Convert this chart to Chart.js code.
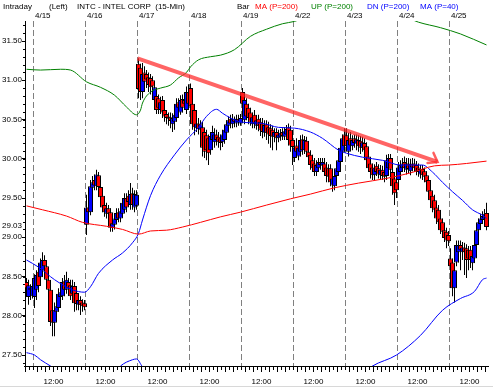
<!DOCTYPE html>
<html>
<head>
<meta charset="utf-8">
<script src="https://cdn.jsdelivr.net/npm/chart.js@4.4.1/dist/chart.umd.min.js"></script>
<style>
  html, body { margin: 0; padding: 0; background: #fff; }
  canvas { display: block; }
</style>
</head>
<body>
<canvas id="chart" width="493" height="387"></canvas>
<script>
// INTC 15-min bars, 4/12 (last 4 bars) .. 4/25
var dayLabels = ['4/15', '4/16', '4/17', '4/18', '4/19', '4/22', '4/23', '4/24', '4/25'];
var dayStart = [4, 30, 56, 82, 108, 134, 160, 186, 212];   // bar index of 9:30
var barsPerDay = 26;
var noonBar = 10;                                          // 12:00 bar within a day

var open = [
  28.43, 28.24, 28.33, 28.25,
  // 4/15
  28.24, 28.33, 28.56, 28.49, 28.58, 28.71, 28.63, 28.46, 28.33, 28.07, 27.91, 28.05, 28.10,
  28.24, 28.25, 28.44, 28.33, 28.43, 28.39, 28.28, 28.38, 28.29, 28.14, 28.20, 28.17, 28.16,
  // 4/16
  29.16, 29.38, 29.32, 29.63, 29.73, 29.65, 29.79, 29.64, 29.53, 29.41, 29.30, 29.37, 29.32,
  29.12, 29.16, 29.22, 29.32, 29.24, 29.30, 29.35, 29.50, 29.53, 29.41, 29.56, 29.38, 29.40,
  // 4/17
  31.21, 31.16, 30.85, 31.10, 31.08, 31.04, 31.03, 31.00, 30.75, 30.80, 30.77, 30.62, 30.75,
  30.62, 30.57, 30.54, 30.53, 30.44, 30.47, 30.52, 30.72, 30.59, 30.76, 30.75, 30.62, 30.85,
  // 4/18
  30.90, 30.70, 30.62, 30.39, 30.45, 30.37, 30.40, 30.34, 30.30, 30.26, 30.11, 30.24, 30.21,
  30.31, 30.28, 30.26, 30.21, 30.24, 30.33, 30.42, 30.51, 30.44, 30.51, 30.45, 30.51, 30.45,
  // 4/19
  30.85, 30.49, 30.70, 30.65, 30.59, 30.44, 30.56, 30.42, 30.51, 30.47, 30.45, 30.33, 30.44,
  30.40, 30.39, 30.37, 30.28, 30.34, 30.26, 30.28, 30.34, 30.28, 30.31, 30.40, 30.37, 30.24,
  // 4/22
  30.01, 30.17, 30.03, 30.09, 30.25, 30.11, 30.23, 30.09, 30.05, 29.98, 29.94, 29.83, 29.88,
  29.96, 29.91, 29.94, 29.89, 29.88, 29.88, 29.66, 29.65, 29.78, 29.83, 29.96, 30.09, 30.31,
  // 4/23
  30.30, 30.09, 30.26, 30.16, 30.26, 30.19, 30.24, 30.23, 30.14, 30.20, 30.16, 30.03, 29.94,
  29.89, 29.79, 29.91, 29.88, 29.79, 29.86, 29.83, 29.78, 29.88, 30.01, 29.83, 29.75, 29.70,
  // 4/24
  29.73, 29.83, 29.88, 29.96, 29.86, 29.94, 29.84, 29.94, 29.94, 29.92, 29.89, 29.80, 29.87,
  29.84, 29.79, 29.73, 29.60, 29.53, 29.47, 29.38, 29.35, 29.24, 29.19, 29.09, 29.07, 29.03,
  // 4/25
  28.73, 28.68, 28.35, 28.68, 28.81, 28.90, 28.81, 28.87, 28.86, 28.84, 28.84, 28.67, 28.73,
  28.90, 29.09, 29.17, 29.22, 29.24, 29.31
];
var high = [
  28.48, 28.46, 28.40, 28.42,
  28.53, 28.58, 28.65, 28.73, 28.81, 28.77, 28.68, 28.51, 28.38, 28.12, 28.17, 28.20, 28.35,
  28.38, 28.48, 28.52, 28.56, 28.48, 28.46, 28.46, 28.43, 28.35, 28.28, 28.25, 28.21, 28.20,
  29.54, 29.44, 29.73, 29.78, 29.80, 29.86, 29.83, 29.69, 29.58, 29.47, 29.44, 29.41, 29.37,
  29.24, 29.31, 29.37, 29.37, 29.40, 29.50, 29.56, 29.56, 29.60, 29.69, 29.63, 29.60, 29.60,
  31.28, 31.21, 31.22, 31.18, 31.13, 31.10, 31.08, 31.05, 30.98, 30.85, 30.82, 30.79, 30.80,
  30.67, 30.62, 30.59, 30.59, 30.58, 30.62, 30.77, 30.77, 30.81, 30.82, 30.80, 30.92, 30.95,
  30.96, 30.75, 30.67, 30.52, 30.52, 30.49, 30.47, 30.39, 30.37, 30.31, 30.34, 30.42, 30.39,
  30.37, 30.34, 30.31, 30.37, 30.42, 30.49, 30.54, 30.56, 30.57, 30.54, 30.56, 30.56, 30.57,
  30.90, 30.81, 30.77, 30.70, 30.65, 30.59, 30.62, 30.54, 30.56, 30.52, 30.52, 30.49, 30.49,
  30.47, 30.44, 30.42, 30.39, 30.39, 30.37, 30.38, 30.39, 30.40, 30.43, 30.45, 30.42, 30.29,
  30.21, 30.26, 30.21, 30.30, 30.31, 30.29, 30.28, 30.15, 30.11, 30.05, 30.01, 29.98, 30.01,
  30.01, 30.01, 30.01, 29.96, 29.93, 29.93, 29.80, 29.83, 29.94, 30.03, 30.19, 30.31, 30.39,
  30.39, 30.33, 30.34, 30.30, 30.31, 30.31, 30.30, 30.29, 30.28, 30.26, 30.21, 30.09, 30.01,
  29.94, 29.93, 29.96, 29.93, 29.92, 29.91, 29.88, 30.05, 30.06, 30.06, 29.88, 29.80, 29.78,
  29.96, 29.98, 30.01, 30.03, 30.01, 30.01, 30.00, 30.01, 30.00, 29.97, 29.94, 29.92, 29.92,
  29.89, 29.84, 29.78, 29.65, 29.58, 29.54, 29.44, 29.41, 29.30, 29.24, 29.14, 29.12, 29.08,
  28.86, 28.73, 28.65, 28.96, 28.96, 28.96, 28.94, 28.93, 28.91, 28.89, 28.89, 28.81, 28.96,
  29.14, 29.24, 29.30, 29.33, 29.36, 29.44
];
var low = [
  28.26, 28.14, 28.20, 28.22,
  28.10, 28.20, 28.30, 28.43, 28.52, 28.58, 28.40, 28.25, 27.87, 27.74, 27.74, 27.99, 28.05,
  28.20, 28.20, 28.25, 28.28, 28.30, 28.20, 28.22, 28.05, 28.07, 28.07, 28.01, 28.05, 28.07,
  29.03, 29.27, 29.28, 29.58, 29.60, 29.60, 29.58, 29.45, 29.32, 29.26, 29.24, 29.22, 29.07,
  29.07, 29.10, 29.17, 29.19, 29.19, 29.27, 29.31, 29.32, 29.40, 29.35, 29.35, 29.32, 29.35,
  30.77, 30.75, 30.77, 30.88, 30.90, 30.85, 30.82, 30.85, 30.68, 30.57, 30.57, 30.57, 30.52,
  30.47, 30.44, 30.42, 30.39, 30.34, 30.37, 30.47, 30.59, 30.56, 30.59, 30.62, 30.57, 30.65,
  30.62, 30.37, 30.30, 30.34, 30.31, 30.29, 30.03, 30.01, 29.98, 29.92, 30.05, 30.17, 30.14,
  30.17, 30.14, 30.11, 30.15, 30.19, 30.26, 30.37, 30.39, 30.39, 30.40, 30.40, 30.42, 30.42,
  30.65, 30.44, 30.49, 30.44, 30.42, 30.39, 30.39, 30.37, 30.35, 30.29, 30.26, 30.28, 30.24,
  30.19, 30.14, 30.11, 30.21, 30.11, 30.21, 30.23, 30.24, 30.24, 30.26, 30.17, 30.09, 29.92,
  29.96, 30.03, 29.98, 30.03, 30.05, 30.06, 30.03, 29.96, 29.86, 29.83, 29.78, 29.78, 29.83,
  29.86, 29.86, 29.78, 29.70, 29.70, 29.65, 29.58, 29.60, 29.73, 29.78, 29.91, 30.03, 30.09,
  30.11, 30.03, 30.11, 30.11, 30.14, 30.11, 30.09, 30.06, 30.09, 30.03, 29.93, 29.83, 29.75,
  29.73, 29.73, 29.78, 29.75, 29.73, 29.73, 29.70, 29.73, 29.83, 29.78, 29.54, 29.41, 29.50,
  29.65, 29.78, 29.83, 29.83, 29.80, 29.82, 29.79, 29.84, 29.83, 29.79, 29.77, 29.75, 29.73,
  29.70, 29.65, 29.53, 29.40, 29.32, 29.30, 29.17, 29.12, 29.04, 28.99, 28.94, 28.86, 28.89,
  28.56, 28.25, 28.17, 28.63, 28.68, 28.58, 28.71, 28.52, 28.48, 28.58, 28.61, 28.58, 28.68,
  28.84, 29.04, 29.12, 29.17, 29.19, 29.09
];
var close = [
  28.35, 28.39, 28.35, 28.38,
  28.48, 28.52, 28.38, 28.68, 28.71, 28.63, 28.46, 28.33, 27.92, 27.91, 28.07, 28.12, 28.28,
  28.30, 28.43, 28.33, 28.46, 28.35, 28.25, 28.38, 28.16, 28.15, 28.20, 28.14, 28.12, 28.11,
  29.38, 29.32, 29.65, 29.70, 29.66, 29.80, 29.64, 29.51, 29.38, 29.32, 29.37, 29.30, 29.12,
  29.18, 29.24, 29.31, 29.24, 29.33, 29.44, 29.50, 29.38, 29.45, 29.55, 29.41, 29.55, 29.54,
  30.89, 30.85, 31.08, 30.98, 31.01, 30.94, 30.91, 30.92, 30.91, 30.62, 30.65, 30.72, 30.59,
  30.54, 30.52, 30.51, 30.48, 30.52, 30.56, 30.70, 30.65, 30.75, 30.65, 30.70, 30.85, 30.70,
  30.67, 30.44, 30.40, 30.45, 30.38, 30.44, 30.14, 30.09, 30.11, 30.07, 30.29, 30.34, 30.31,
  30.24, 30.21, 30.20, 30.31, 30.37, 30.44, 30.49, 30.45, 30.51, 30.47, 30.51, 30.47, 30.52,
  30.70, 30.75, 30.54, 30.52, 30.47, 30.53, 30.45, 30.49, 30.42, 30.37, 30.34, 30.43, 30.33,
  30.31, 30.29, 30.28, 30.34, 30.26, 30.31, 30.33, 30.29, 30.35, 30.38, 30.24, 30.17, 30.15,
  30.14, 30.09, 30.14, 30.24, 30.11, 30.24, 30.09, 30.02, 29.92, 29.88, 29.83, 29.92, 29.96,
  29.92, 29.96, 29.83, 29.78, 29.77, 29.70, 29.75, 29.78, 29.88, 29.98, 30.14, 30.26, 30.16,
  30.16, 30.24, 30.17, 30.24, 30.20, 30.25, 30.16, 30.14, 30.21, 30.11, 29.98, 29.88, 29.83,
  29.79, 29.88, 29.83, 29.80, 29.86, 29.78, 29.77, 29.98, 30.01, 29.86, 29.65, 29.56, 29.60,
  29.89, 29.92, 29.94, 29.88, 29.94, 29.87, 29.93, 29.89, 29.88, 29.84, 29.83, 29.87, 29.79,
  29.77, 29.70, 29.58, 29.47, 29.37, 29.35, 29.24, 29.19, 29.09, 29.07, 28.99, 28.96, 28.95,
  28.63, 28.35, 28.58, 28.90, 28.90, 28.84, 28.87, 28.81, 28.71, 28.73, 28.71, 28.76, 28.90,
  29.09, 29.19, 29.24, 29.27, 29.30, 29.13
];

// studies, read at a few bars each
var ma200Idx = [0, 8, 20, 28, 40, 48, 56, 62, 70, 78, 87, 97, 107, 120, 132, 142, 154, 166, 180, 192, 204, 211, 220, 230];
var ma200Val = [29.40, 29.35, 29.27, 29.19, 29.14, 29.10, 29.04, 29.08, 29.09, 29.13, 29.19, 29.26, 29.32, 29.41, 29.49, 29.55, 29.63, 29.69, 29.75, 29.82, 29.91, 29.92, 29.94, 29.97];

var upIdx = [0, 7, 17, 22, 30, 37, 44, 50, 55, 57, 58, 62, 67, 72, 76, 80, 82, 86, 92, 97, 104, 112, 120, 128, 134, 150, 170, 190, 196, 207, 217, 230];
var upVal = [31.14, 31.13, 31.14, 31.13, 30.98, 30.91, 30.81, 30.66, 30.56, 30.62, 30.71, 30.85, 30.90, 30.94, 31.03, 31.10, 31.17, 31.26, 31.30, 31.32, 31.39, 31.56, 31.65, 31.72, 31.75, 31.90, 31.95, 31.80, 31.74, 31.67, 31.59, 31.45];

var dnIdx = [0, 4, 7, 12, 25, 40, 47, 53, 55, 58, 80, 120, 160, 173, 185, 197, 208, 217, 224, 228, 230];
var dnVal = [27.53, 27.50, 27.44, 27.36, 27.15, 27.15, 27.36, 27.44, 27.45, 27.35, 26.90, 26.95, 27.10, 27.36, 27.50, 27.75, 28.07, 28.22, 28.31, 28.46, 28.48];

var ma40Idx = [0, 6, 14, 23, 29, 32, 36, 43, 48, 53, 56, 58, 62, 67, 74, 80, 86, 90, 95, 98, 102, 107, 118, 126, 134, 142, 148, 156, 160, 168, 178, 187, 198, 203, 208, 213, 218, 223, 228, 230];
var ma40Val = [28.71, 28.62, 28.46, 28.33, 28.30, 28.37, 28.54, 28.71, 28.80, 28.93, 29.05, 29.22, 29.53, 29.79, 30.05, 30.24, 30.40, 30.54, 30.63, 30.58, 30.52, 30.47, 30.45, 30.40, 30.39, 30.34, 30.26, 30.11, 30.07, 30.02, 29.98, 29.92, 29.92, 29.83, 29.70, 29.58, 29.47, 29.35, 29.28, 29.24];

// hand drawn trend line
var trendIdx = [55.5, 205.5];
var trendVal = [31.28, 29.96];

var yTicks = [27.5, 28, 28.5, 29, 29.5, 30, 30.5, 31, 31.5];
var lastLabel = '29.03', lastLabelVal = 29.15;

function pts(xs, ys) {
  return xs.map(function (x, k) { return { x: x, y: ys[k] }; });
}

var wicks = close.map(function (c, i) { return { x: i, y: [low[i], high[i]] }; });
var bodies = close.map(function (c, i) {
  var a = Math.min(open[i], c), b = Math.max(open[i], c);
  if (b - a < 0.02) b = a + 0.02;
  return { x: i, y: [a, b] };
});
var bodyColor = close.map(function (c, i) { return c >= open[i] ? '#0000ff' : '#ff0000'; });

var FONT = '8px "Liberation Sans", Arial, sans-serif';

var deco = {
  id: 'deco',
  beforeDatasetsDraw: function (chart) {
    var ctx = chart.ctx, xs = chart.scales.x, a = chart.chartArea;
    ctx.save();
    ctx.strokeStyle = '#808080';
    ctx.lineWidth = 1;
    ctx.setLineDash([6, 3]);
    dayStart.forEach(function (d) {
      var x = Math.floor(xs.getPixelForValue(d - 0.5)) + 0.5;
      ctx.beginPath();
      ctx.moveTo(x, a.top);
      ctx.lineTo(x, a.bottom);
      ctx.stroke();
    });
    ctx.restore();
  },
  afterDraw: function (chart) {
    var ctx = chart.ctx, xs = chart.scales.x, ys = chart.scales.y, a = chart.chartArea;
    ctx.save();
    ctx.strokeStyle = '#000';
    ctx.lineWidth = 1;
    // bottom axis
    ctx.beginPath();
    ctx.moveTo(a.left - 1, a.bottom + 0.5);
    ctx.lineTo(a.right, a.bottom + 0.5);
    ctx.stroke();
    for (var i = 0; i <= close.length; i++) {
      var k = ((i - dayStart[0]) % barsPerDay + barsPerDay) % barsPerDay;
      if (k % 2) continue;
      var x = Math.floor(xs.getPixelForValue(i - 0.5)) + 0.5;
      var len = (k / 2) % 2 ? 5 : 3;
      ctx.beginPath();
      ctx.moveTo(x, a.bottom + 1);
      ctx.lineTo(x, a.bottom + 1 + len);
      ctx.stroke();
    }
    // minor y ticks
    for (var v = 27.4; v < 31.76; v += 0.1) {
      var y = Math.round(ys.getPixelForValue(v)) + 0.5;
      ctx.beginPath();
      ctx.moveTo(a.left - 2, y);
      ctx.lineTo(a.left, y);
      ctx.stroke();
    }
    // window frame at the bottom
    ctx.strokeStyle = '#d8d8d8';
    ctx.beginPath();
    ctx.moveTo(0, 386.5);
    ctx.lineTo(493, 386.5);
    ctx.stroke();
    ctx.font = FONT;
    ctx.fillStyle = '#000';
    // 12:00 labels
    ctx.textAlign = 'center';
    ctx.textBaseline = 'alphabetic';
    dayStart.forEach(function (d) {
      ctx.fillText('12:00', xs.getPixelForValue(d + noonBar - 0.5), 384);
    });
    // date labels
    ctx.textAlign = 'left';
    dayStart.forEach(function (d, n) {
      ctx.fillText(dayLabels[n], Math.floor(xs.getPixelForValue(d - 0.5)) + 2, 18);
    });
    // last value
    ctx.textAlign = 'right';
    ctx.textBaseline = 'middle';
    ctx.fillText(lastLabel, 22, ys.getPixelForValue(lastLabelVal));
    // header
    ctx.textAlign = 'left';
    ctx.textBaseline = 'alphabetic';
    var head = [
      ['Intraday', 3, '#000'], ['(Left)', 49, '#000'], ['INTC - INTEL CORP  (15-Min)', 77, '#000'],
      ['Bar', 237, '#000'], ['MA (P=200)', 255, '#ff0000'], ['UP (P=200)', 311, '#008000'],
      ['DN (P=200)', 367, '#0000ff'], ['MA (P=40)', 420, '#0000ff']
    ];
    head.forEach(function (h) { ctx.fillStyle = h[2]; ctx.fillText(h[0], h[1], 9); });
    // arrow head of the trend line
    var tx = xs.getPixelForValue(trendIdx[1]), ty = ys.getPixelForValue(trendVal[1]);
    ctx.strokeStyle = 'rgba(255,40,40,0.75)';
    ctx.lineWidth = 2.5;
    ctx.lineCap = 'round';
    ctx.beginPath();
    ctx.moveTo(tx - 4, ty - 9);
    ctx.lineTo(tx, ty);
    ctx.lineTo(tx - 10, ty + 1);
    ctx.stroke();
    ctx.restore();
  }
};

function lineSet(label, data, color, width, order) {
  return {
    type: 'line', label: label, data: data, borderColor: color, borderWidth: width,
    pointRadius: 0, fill: false, cubicInterpolationMode: 'monotone', order: order
  };
}

new Chart(document.getElementById('chart').getContext('2d'), {
  type: 'bar',
  data: {
    datasets: [
      lineSet('trend', pts(trendIdx, trendVal), 'rgba(255,40,40,0.72)', 4, 0),
      lineSet('MA (P=200)', pts(ma200Idx, ma200Val), '#ff0000', 1, 1),
      lineSet('UP (P=200)', pts(upIdx, upVal), '#008000', 1, 2),
      lineSet('DN (P=200)', pts(dnIdx, dnVal), '#0000ff', 1, 3),
      lineSet('MA (P=40)', pts(ma40Idx, ma40Val), '#0000ff', 1, 4),
      {
        label: 'body', data: bodies, backgroundColor: bodyColor, borderColor: '#000',
        borderWidth: 1, borderSkipped: false, barThickness: 5, grouped: false,
        inflateAmount: 0, order: 5
      },
      {
        label: 'wick', data: wicks, backgroundColor: '#000', borderWidth: 0,
        barThickness: 1, grouped: false, inflateAmount: 0, order: 6
      }
    ]
  },
  options: {
    responsive: false,
    animation: false,
    events: [],
    layout: { padding: { top: 21, right: 4, bottom: 21, left: 0 } },
    plugins: { legend: { display: false }, tooltip: { enabled: false } },
    scales: {
      x: { type: 'linear', min: -0.75, max: 231.25, offset: false, display: false },
      y: {
        min: 27.36, max: 31.755,
        afterFit: function (s) { s.width = 25; },
        afterBuildTicks: function (s) { s.ticks = yTicks.map(function (v) { return { value: v }; }); },
        ticks: {
          callback: function (v) { return v.toFixed(2); },
          font: { family: '"Liberation Sans", Arial, sans-serif', size: 8 },
          color: '#000', padding: 0, autoSkip: false
        },
        grid: { drawOnChartArea: false, tickLength: 3, color: '#000' },
        border: { color: '#000' }
      }
    }
  },
  plugins: [deco]
});
</script>
</body>
</html>
